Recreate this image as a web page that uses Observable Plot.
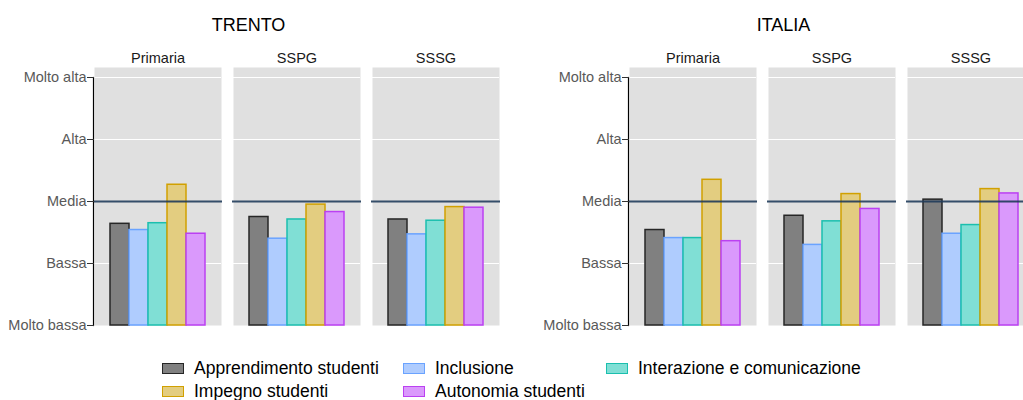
<!DOCTYPE html>
<html>
<head>
<meta charset="utf-8">
<script src="https://cdn.jsdelivr.net/npm/d3@7"></script>
<script src="https://cdn.jsdelivr.net/npm/@observablehq/plot@0.6"></script>
<style>
html, body { margin: 0; padding: 0; background: #fff; overflow: hidden; }
#root { position: relative; width: 1023px; height: 400px; overflow: hidden; font-family: "Liberation Sans", Arial, sans-serif; }
.title { position: absolute; top: 15px; width: 497px; text-align: center; font-size: 18px; line-height: 20px; color: #000; }
.chart { position: absolute; top: 40px; width: 499px; height: 295px; }
.chart svg { max-width: none !important; width: 499px; height: 295px; }
#legend { position: absolute; left: 162px; top: 357px; display: grid; grid-template-columns: 241px 203px auto; grid-auto-rows: 23px; font-size: 17.5px; color: #000; }
.item { display: flex; align-items: center; white-space: nowrap; }
.sw { width: 20px; height: 9px; border: 1.5px solid; margin-right: 10px; box-sizing: content-box; }
</style>
</head>
<body>
<div id="root">
  <div class="title" id="t0" style="left:0px"></div>
  <div class="chart" id="c0" style="left:0px"></div>
  <div class="title" id="t1" style="left:535px"></div>
  <div class="chart" id="c1" style="left:535px"></div>
  <div id="legend"></div>
</div>
<script>
// ---- data ----
const regions = ["TRENTO", "ITALIA"];
const levels = ["Primaria", "SSPG", "SSSG"];
const indicators = ["Apprendimento studenti", "Inclusione", "Interazione e comunicazione", "Impegno studenti", "Autonomia studenti"];
const tickValues = [1, 2, 3, 4, 5];
const tickLabels = ["Molto bassa", "Bassa", "Media", "Alta", "Molto alta"];
const referenceValue = [3];

const trentoPrimaria = [2.64, 2.54, 2.65, 3.27, 2.48];
const trentoSSPG     = [2.75, 2.40, 2.71, 2.95, 2.83];
const trentoSSSG     = [2.71, 2.47, 2.69, 2.91, 2.90];
const italiaPrimaria = [2.54, 2.41, 2.41, 3.35, 2.36];
const italiaSSPG     = [2.77, 2.30, 2.68, 3.12, 2.88];
const italiaSSSG     = [3.03, 2.48, 2.62, 3.20, 3.13];

const fillColors   = ["#808080", "#AFCCFE", "#80DFD5", "#E3CD80", "#DA99FC"];
const strokeColors = ["#262626", "#6AA3FF", "#1BBFAE", "#D1A000", "#BB40F2"];

const fillOf = Object.fromEntries(indicators.map((d, i) => [d, fillColors[i]]));
const strokeOf = Object.fromEntries(indicators.map((d, i) => [d, strokeColors[i]]));

function makeChart(series) {
  const data = [];
  levels.forEach((lv, j) => indicators.forEach((ind, i) => data.push({level: lv, indicator: ind, value: series[j][i]})));
  return Plot.plot({
    width: 499,
    height: 295,
    marginLeft: 94,
    marginRight: 0,
    marginTop: 27,
    marginBottom: 10,
    style: {fontFamily: "'Liberation Sans', Arial, sans-serif", fontSize: "14.5px", background: "transparent", overflow: "visible", maxWidth: "none"},
    fx: {domain: levels, paddingInner: 12.5 / 139, paddingOuter: 0, label: null, axis: null},
    x: {domain: indicators, paddingInner: 0, paddingOuter: 0.68, axis: null},
    y: {domain: [1, 5 + 10 / 62], axis: null},
    marks: [
      Plot.frame({fill: "#E0E0E0", stroke: "none"}),
      Plot.ruleY([2, 3, 4, 5], {stroke: "white", strokeWidth: 1.2}),
      Plot.barY(data, {
        fx: "level", x: "indicator", y1: 1, y2: "value",
        fill: d => fillOf[d.indicator], stroke: d => strokeOf[d.indicator], strokeWidth: 1.5
      }),
      Plot.ruleY(referenceValue, {stroke: "#1F3B5A", strokeWidth: 2, strokeOpacity: 0.9, insetLeft: -1, insetRight: -1}),
      Plot.frame({anchor: "left", facetAnchor: "left", insetTop: 10, stroke: "black", strokeWidth: 1.2, dx: -1}),
      Plot.axisY({ticks: tickValues, tickFormat: d => tickLabels[d - 1], tickSize: 7, tickPadding: 1, stroke: "#333", fill: "#595959", fontSize: 14.5, label: null}),
      Plot.axisFx({anchor: "top", tickSize: 0, tickPadding: 5, fill: "#1A1A1A", fontSize: 14.5, label: null})
    ]
  });
}

const seriesByRegion = [
  [trentoPrimaria, trentoSSPG, trentoSSSG],
  [italiaPrimaria, italiaSSPG, italiaSSSG]
];
regions.forEach((r, k) => {
  document.getElementById("t" + k).textContent = r;
  document.getElementById("c" + k).appendChild(makeChart(seriesByRegion[k]));
});

const legend = document.getElementById("legend");
indicators.forEach((ind, i) => {
  const item = document.createElement("div");
  item.className = "item";
  const sw = document.createElement("span");
  sw.className = "sw";
  sw.style.background = fillColors[i];
  sw.style.borderColor = strokeColors[i];
  const tx = document.createElement("span");
  tx.textContent = ind;
  item.appendChild(sw);
  item.appendChild(tx);
  legend.appendChild(item);
});
</script>
</body>
</html>
